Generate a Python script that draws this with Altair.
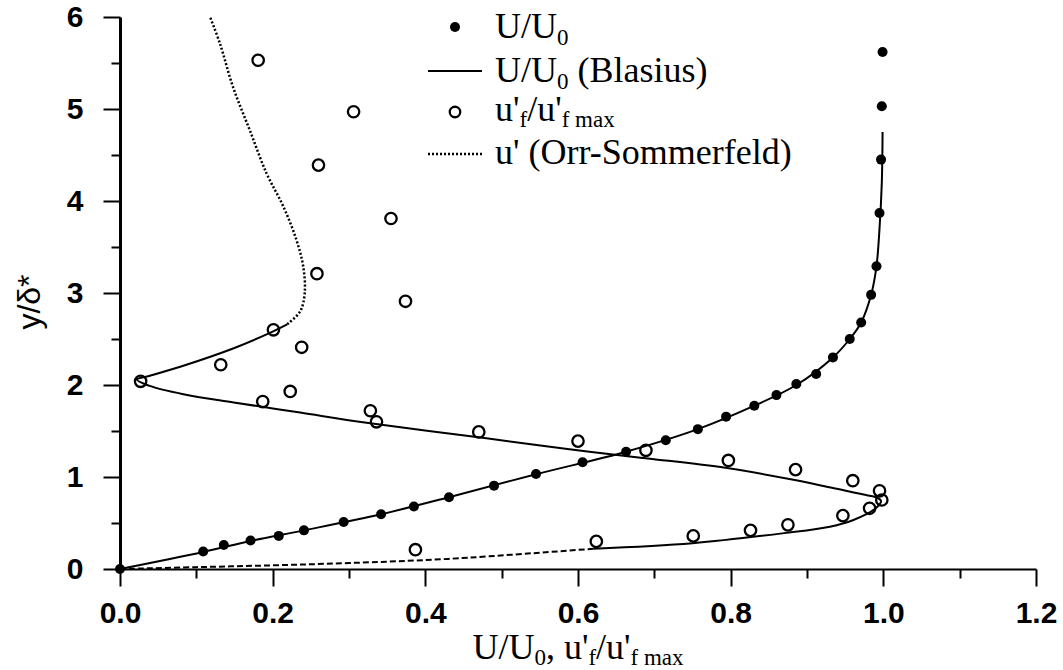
import altair as alt
import pandas as pd

# ---------------- data ----------------
# U/U0 measured (filled dots)
dots_x = [0.0, 0.109, 0.136, 0.171, 0.208, 0.241, 0.293, 0.342, 0.385, 0.431, 0.490, 0.545,
          0.606, 0.663, 0.715, 0.757, 0.794, 0.831, 0.860, 0.886, 0.912, 0.934, 0.956,
          0.971, 0.984, 0.991, 0.995, 0.997, 0.998, 0.999]
dots_y = [0.0, 0.19, 0.26, 0.31, 0.36, 0.42, 0.51, 0.595, 0.68, 0.78, 0.906, 1.033,
          1.16, 1.275, 1.40, 1.52, 1.656, 1.775, 1.89, 2.01, 2.12, 2.30, 2.50,
          2.68, 2.98, 3.29, 3.87, 4.45, 5.03, 5.62]

# U/U0 Blasius (solid line)
blas_x = [0.0, 0.109, 0.171, 0.241, 0.342, 0.431, 0.545, 0.663, 0.757, 0.831, 0.886,
          0.934, 0.956, 0.971, 0.984, 0.991, 0.995, 0.998, 0.999]
blas_y = [0.0, 0.185, 0.305, 0.42, 0.595, 0.78, 1.03, 1.275, 1.52, 1.775, 2.0,
          2.3, 2.5, 2.68, 2.98, 3.29, 3.7, 4.2, 4.75]

# u'f / u'f max measured (open circles)
circ_x = [0.387, 0.624, 0.751, 0.826, 0.875, 0.947, 0.982, 0.998, 0.995, 0.960, 0.885,
          0.797, 0.689, 0.600, 0.470, 0.336, 0.328, 0.223, 0.187, 0.027, 0.132, 0.238,
          0.201, 0.374, 0.258, 0.355, 0.260, 0.306, 0.181]
circ_y = [0.21, 0.30, 0.36, 0.42, 0.48, 0.58, 0.66, 0.75, 0.85, 0.96, 1.08,
          1.18, 1.29, 1.39, 1.49, 1.60, 1.72, 1.93, 1.82, 2.04, 2.22, 2.41,
          2.60, 2.91, 3.21, 3.81, 4.39, 4.97, 5.53]

# u' Orr-Sommerfeld (curve, traced in order)
os_x = [0.0, 0.1, 0.2, 0.3, 0.43, 0.62, 0.75, 0.87, 0.93, 0.96, 0.99, 0.997, 0.99, 0.98,
        0.934, 0.884, 0.793, 0.682, 0.581, 0.48, 0.323, 0.236, 0.149, 0.083, 0.039,
        0.022, 0.039, 0.087, 0.149, 0.192, 0.219, 0.236, 0.242, 0.240, 0.231, 0.214,
        0.192, 0.170, 0.148, 0.131, 0.118]
os_y = [0.0, 0.02, 0.04, 0.065, 0.11, 0.22, 0.28, 0.39, 0.46, 0.53, 0.66, 0.74, 0.78, 0.80,
        0.88, 0.967, 1.10, 1.21, 1.31, 1.42, 1.59, 1.70, 1.81, 1.90, 1.99,
        2.06, 2.10, 2.22, 2.40, 2.55, 2.66, 2.80, 3.0, 3.29, 3.58, 3.94,
        4.30, 4.77, 5.24, 5.71, 6.0]

x_ticks = [round(i * 0.1, 1) for i in range(13)]
y_ticks = [i * 0.5 for i in range(13)]

# ---------------- frames ----------------
dots_df = pd.DataFrame({"x": dots_x, "y": dots_y})
blas_df = pd.DataFrame({"x": blas_x, "y": blas_y, "i": range(len(blas_x))})
circ_df = pd.DataFrame({"x": circ_x, "y": circ_y})
os_df = pd.DataFrame({"x": os_x, "y": os_y, "i": range(len(os_x))})
os_low = os_df.iloc[0:6]
os_mid = os_df.iloc[5:31]
os_top = os_df.iloc[30:]

W, H = 916, 552
SERIF = "Liberation Serif"
SANS = "Liberation Sans"

xsc = alt.Scale(domain=[0, 1.2], nice=False, zero=False)
ysc = alt.Scale(domain=[0, 6], nice=False, zero=False)

x_axis = alt.Axis(
    values=x_ticks,
    labelExpr="round(datum.value*10) % 2 == 0 ? format(datum.value, '.1f') : ''",
    tickSize={"condition": {"test": "round(datum.value*10) % 2 == 0", "value": 17}, "value": 9},
    labelFont=SANS, labelFontWeight="bold", labelFontSize=30, labelPadding=12,
    labelColor="black", grid=False, domainColor="black", domainWidth=2,
    tickColor="black", tickWidth=2, labelFlush=False, labelOverlap=False,
)
y_axis = alt.Axis(
    values=y_ticks,
    labelExpr="datum.value % 1 == 0 ? format(datum.value, 'd') : ''",
    tickSize={"condition": {"test": "datum.value % 1 == 0", "value": 17}, "value": 9},
    labelFont=SANS, labelFontWeight="bold", labelFontSize=30, labelPadding=20,
    labelColor="black", grid=False, domainColor="black", domainWidth=3,
    tickColor="black", tickWidth=2, labelFlush=False, labelOverlap=False,
)

X = alt.X("x:Q", scale=xsc, axis=x_axis, title=None)
Y = alt.Y("y:Q", scale=ysc, axis=y_axis, title=None)

blas = alt.Chart(blas_df).mark_line(color="black", strokeWidth=2,
                                    interpolate="catmull-rom").encode(
    x=X, y=Y, order=alt.Order("i:Q"))
osl = alt.Chart(os_low).mark_line(color="black", strokeWidth=2, strokeDash=[6, 3],
                                  interpolate="catmull-rom").encode(
    x=X, y=Y, order=alt.Order("i:Q"))
osm = alt.Chart(os_mid).mark_line(color="black", strokeWidth=2,
                                  interpolate="catmull-rom").encode(
    x=X, y=Y, order=alt.Order("i:Q"))
ost = alt.Chart(os_top).mark_line(color="black", strokeWidth=2.5, strokeDash=[2, 2],
                                  interpolate="catmull-rom").encode(
    x=X, y=Y, order=alt.Order("i:Q"))
dots = alt.Chart(dots_df).mark_point(shape="circle", filled=True, color="black",
                                     size=100, opacity=1).encode(x=X, y=Y)
circs = alt.Chart(circ_df).mark_point(shape="circle", filled=False, color="black",
                                      size=130, strokeWidth=2.3, opacity=1).encode(x=X, y=Y)

# ---------------- manual text with subscripts ----------------
TNR = {"U": 0.722, "/": 0.278, " ": 0.25, "(": 0.333, ")": 0.333, "B": 0.667, "l": 0.278,
       "a": 0.444, "s": 0.389, "i": 0.278, "u": 0.5, "'": 0.18, "f": 0.333, "m": 0.778,
       "x": 0.5, ",": 0.25, "0": 0.5, "O": 0.722, "r": 0.333, "-": 0.333, "S": 0.556,
       "o": 0.5, "e": 0.444, "d": 0.5}

dummy = pd.DataFrame({"a": [0]})


def tw_of(txt, fs):
    return sum(TNR.get(c, 0.5) for c in txt) * fs


def text_runs(runs, x0, y0, size, sub_size, sub_dy):
    layers = []
    x = x0
    for txt, sub in runs:
        fs = sub_size if sub else size
        lead = len(txt) - len(txt.lstrip(" "))
        x += lead * TNR[" "] * fs
        body = txt.lstrip(" ")
        layers.append(
            alt.Chart(dummy).mark_text(text=body, font=SERIF, fontSize=fs, color="black",
                                       align="left", baseline="alphabetic").encode(
                x=alt.value(x), y=alt.value(y0 + (sub_dy if sub else 0))))
        x += tw_of(body, fs)
    return layers


def runs_width(runs, size, sub_size):
    return sum(tw_of(t, sub_size if s else size) for t, s in runs)


LS, LSS, LDY = 36, 23, 7
TX = 375
legend = []
legend += [alt.Chart(dummy).mark_point(shape="circle", filled=True, color="black", size=100,
                                        opacity=1).encode(x=alt.value(335), y=alt.value(10))]
legend += text_runs([("U/U", False), ("0", True)], TX, 21, LS, LSS, LDY)
legend += [alt.Chart(dummy).mark_rule(color="black", strokeWidth=2).encode(
    x=alt.value(308), x2=alt.value(362), y=alt.value(54))]
legend += text_runs([("U/U", False), ("0", True), (" (Blasius)", False)], TX, 65, LS, LSS, LDY)
legend += [alt.Chart(dummy).mark_point(shape="circle", filled=False, color="black", size=110,
                                        strokeWidth=2.3, opacity=1).encode(
    x=alt.value(335), y=alt.value(95))]
legend += text_runs([("u'", False), ("f", True), ("/u'", False), ("f max", True)],
                    TX, 104, LS, LSS, 6)
legend += [alt.Chart(dummy).mark_rule(color="black", strokeWidth=2.5, strokeDash=[2, 2]).encode(
    x=alt.value(308), x2=alt.value(362), y=alt.value(137))]
legend += text_runs([("u' (Orr-Sommerfeld)", False)], TX, 147, LS, LSS, LDY)

# x-axis title
title_runs = [("U/U", False), ("0", True), (", u'", False), ("f", True), ("/u'", False),
              ("f max", True)]
tw = runs_width(title_runs, LS, LSS)
xtitle = text_runs(title_runs, W / 2 - tw / 2, 642, LS, LSS, 6)

# y-axis title
ytitle = alt.Chart(dummy).mark_text(text="y/δ*", font=SANS, fontSize=32, color="black",
                                    angle=270, align="center", baseline="middle").encode(
    x=alt.value(-90), y=alt.value(285))

chart = alt.layer(blas, osl, osm, ost, dots, circs, *legend, *xtitle, ytitle).properties(
    width=W, height=H,
    autosize=alt.AutoSizeParams(type="none"),
    padding={"left": 120, "top": 17, "right": 27, "bottom": 101},
    background="white",
).configure_view(stroke=None)

chart.save("out.html", embed_options={"renderer": "svg", "actions": False})
